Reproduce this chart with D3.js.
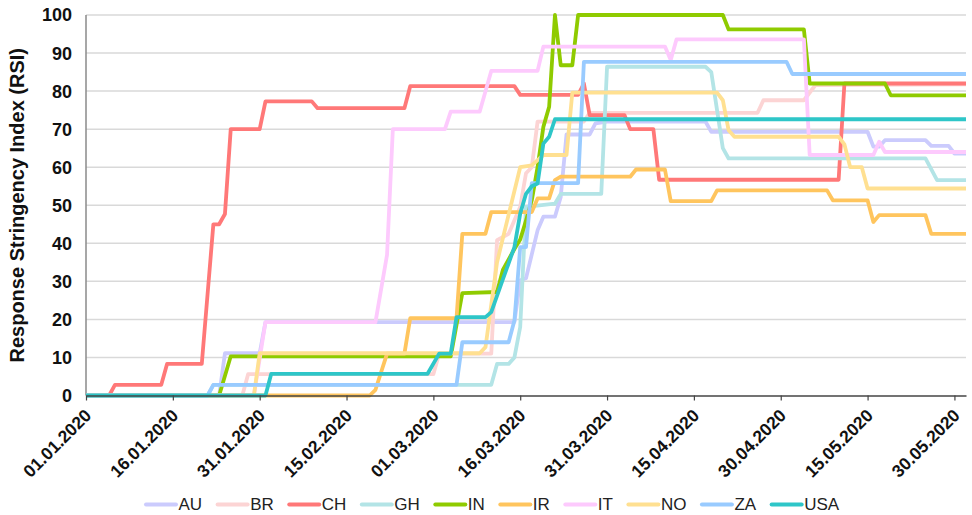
<!DOCTYPE html>
<html><head><meta charset="utf-8">
<script src="https://cdn.jsdelivr.net/npm/d3@7"></script>
<style>body{margin:0;background:#fff} svg{display:block}</style>
</head><body><svg id="c" width="972" height="515"></svg>
<script>
const countries = ["AU","BR","CH","GH","IN","IR","IT","NO","ZA","USA"];
const colors = ["#cbcbfd","#fcd4d4","#ff7878","#b3e4e6","#8fcb00","#ffc55e","#fdcafd","#ffe091","#99cbff","#2ec6c8"];
const yTicks = [0,10,20,30,40,50,60,70,80,90,100];
const xTickLabels = ["01.01.2020","16.01.2020","31.01.2020","15.02.2020","01.03.2020","16.03.2020","31.03.2020","15.04.2020","30.04.2020","15.05.2020","30.05.2020"];
const dateStart = "2020-01-01", dateEnd = "2020-06-01";

const AU = [["2020-01-01",0],["2020-01-24",0],["2020-01-25",11.1],["2020-01-31",11.1],["2020-02-01",19.3],["2020-03-15",19.3],["2020-03-16",30.3],["2020-03-17",30.8],["2020-03-19",43.4],["2020-03-20",47],["2020-03-22",47],["2020-03-23",52.2],["2020-03-24",68.6],["2020-03-28",68.6],["2020-03-29",71.5],["2020-03-31",72],["2020-04-17",72],["2020-04-18",69.3],["2020-05-15",69.3],["2020-05-16",65.4],["2020-05-17",65.4],["2020-05-18",67.1],["2020-05-25",67.1],["2020-05-26",65.6],["2020-05-29",65.6],["2020-05-30",63.6],["2020-06-01",63.6]];
const BR = [["2020-01-01",0],["2020-01-28",0],["2020-01-29",5.6],["2020-03-01",5.6],["2020-03-02",11],["2020-03-11",11],["2020-03-12",40.8],["2020-03-14",42.5],["2020-03-16",49.6],["2020-03-17",58.4],["2020-03-18",60],["2020-03-19",72],["2020-03-27",72],["2020-03-28",74.3],["2020-04-26",74.3],["2020-04-27",77.6],["2020-05-04",77.6],["2020-05-06",81.6],["2020-06-01",81.8]];
const CH = [["2020-01-01",0],["2020-01-05",0],["2020-01-06",2.8],["2020-01-14",2.8],["2020-01-15",8.3],["2020-01-21",8.3],["2020-01-23",45],["2020-01-24",45],["2020-01-25",47.7],["2020-01-26",70],["2020-01-31",70],["2020-02-01",77.3],["2020-02-09",77.3],["2020-02-10",75.5],["2020-02-25",75.5],["2020-02-26",81.3],["2020-03-15",81.3],["2020-03-16",79],["2020-03-26",79],["2020-03-27",82],["2020-03-28",73.7],["2020-04-03",73.7],["2020-04-04",70],["2020-04-08",70],["2020-04-09",56.7],["2020-05-10",56.7],["2020-05-11",82],["2020-06-01",82]];
const GH = [["2020-01-01",0],["2020-01-22",0],["2020-01-23",2.8],["2020-03-11",2.8],["2020-03-12",8.3],["2020-03-14",8.3],["2020-03-15",10],["2020-03-16",18],["2020-03-17",49.6],["2020-03-22",50.4],["2020-03-23",53],["2020-03-30",53],["2020-03-31",86.4],["2020-04-17",86.4],["2020-04-18",85],["2020-04-19",75],["2020-04-20",65],["2020-04-21",62.3],["2020-05-25",62.3],["2020-05-27",56.6],["2020-06-01",56.6]];
const IN = [["2020-01-01",0],["2020-01-24",0],["2020-01-26",10.3],["2020-03-04",10.3],["2020-03-06",26.9],["2020-03-12",27.2],["2020-03-13",33],["2020-03-15",38.5],["2020-03-16",41],["2020-03-17",46],["2020-03-18",51.3],["2020-03-19",60],["2020-03-20",70.6],["2020-03-21",75.9],["2020-03-22",100],["2020-03-23",86.8],["2020-03-25",86.8],["2020-03-26",100],["2020-04-20",100],["2020-04-21",96.2],["2020-05-04",96.2],["2020-05-05",82],["2020-05-18",82],["2020-05-19",78.9],["2020-06-01",78.9]];
const IR = [["2020-01-01",0],["2020-02-19",0],["2020-02-20",1.5],["2020-02-22",11],["2020-02-25",11],["2020-02-26",20.3],["2020-03-05",20.3],["2020-03-06",42.5],["2020-03-10",42.5],["2020-03-11",48.2],["2020-03-18",48.2],["2020-03-19",51.8],["2020-03-21",51.8],["2020-03-22",56.6],["2020-03-23",57.5],["2020-04-04",57.5],["2020-04-05",59.4],["2020-04-10",59.4],["2020-04-11",51.1],["2020-04-18",51.1],["2020-04-19",53.9],["2020-05-08",53.9],["2020-05-09",51.3],["2020-05-15",51.3],["2020-05-16",45.6],["2020-05-17",47.4],["2020-05-25",47.4],["2020-05-26",42.5],["2020-06-01",42.5]];
const IT = [["2020-01-01",0],["2020-01-30",0],["2020-02-01",19.3],["2020-02-20",19.3],["2020-02-22",37],["2020-02-23",70],["2020-03-03",70],["2020-03-04",74.6],["2020-03-09",74.6],["2020-03-11",85.3],["2020-03-19",85.3],["2020-03-20",91.7],["2020-04-10",91.7],["2020-04-11",88.2],["2020-04-12",93.6],["2020-05-04",93.6],["2020-05-05",63.2],["2020-05-16",63.2],["2020-05-17",66.7],["2020-05-18",64],["2020-06-01",64]];
const NO = [["2020-01-01",0],["2020-01-30",0],["2020-01-31",11.1],["2020-03-09",11.1],["2020-03-10",12.7],["2020-03-12",35],["2020-03-13",41.3],["2020-03-16",60],["2020-03-18",60.5],["2020-03-20",63.2],["2020-03-24",63.2],["2020-03-25",79.6],["2020-04-19",79.6],["2020-04-20",77.6],["2020-04-21",69.7],["2020-04-22",68],["2020-05-10",68],["2020-05-11",66],["2020-05-12",60],["2020-05-14",60],["2020-05-15",54.4],["2020-06-01",54.4]];
const ZA = [["2020-01-01",0],["2020-01-22",0],["2020-01-23",2.8],["2020-03-05",2.8],["2020-03-06",14],["2020-03-14",14],["2020-03-15",19.7],["2020-03-16",39],["2020-03-17",39],["2020-03-18",55.8],["2020-03-26",55.8],["2020-03-27",87.7],["2020-05-01",87.7],["2020-05-02",84.5],["2020-06-01",84.5]];
const USA = [["2020-01-01",0],["2020-02-01",0],["2020-02-02",5.7],["2020-02-29",5.7],["2020-03-02",11],["2020-03-04",11],["2020-03-05",20.6],["2020-03-10",20.6],["2020-03-11",21.9],["2020-03-13",30.5],["2020-03-15",39],["2020-03-16",47.8],["2020-03-17",53],["2020-03-18",55],["2020-03-19",55.7],["2020-03-20",66.2],["2020-03-21",68],["2020-03-22",72.6],["2020-06-01",72.6]];
const seriesData = [AU, BR, CH, GH, IN, IR, IT, NO, ZA, USA];

const parseISO = d3.utcParse("%Y-%m-%d");
const parseTick = d3.utcParse("%d.%m.%Y");
const svg = d3.select("#c");
const W = 972, H = 515;
const m = {l: 86, r: 6, t: 15, b: 119.5};
const x = d3.scaleUtc().domain([parseISO(dateStart), parseISO(dateEnd)]).range([m.l, W - m.r]);
const y = d3.scaleLinear().domain([0, 100]).range([H - m.b, m.t]);
const FONT = "Liberation Sans, Arial, sans-serif";

svg.append("rect").attr("width", W).attr("height", H).attr("fill", "#fff");

// grid
svg.append("g").selectAll("line").data(yTicks.filter(v => v > 0)).join("line")
  .attr("x1", m.l).attr("x2", W - m.r)
  .attr("y1", d => y(d)).attr("y2", d => y(d))
  .attr("stroke", "#d9d9d9").attr("stroke-width", 1.5);

// left axis line
svg.append("line").attr("x1", m.l).attr("x2", m.l).attr("y1", y(100)).attr("y2", y(0))
  .attr("stroke", "#8a8a8a").attr("stroke-width", 1.5);

// y labels
svg.append("g").selectAll("text").data(yTicks).join("text")
  .attr("x", 72).attr("y", d => y(d)).attr("dy", "0.36em")
  .attr("text-anchor", "end")
  .attr("font-family", FONT)
  .attr("font-weight", "bold").attr("font-size", 18).attr("fill", "#111")
  .text(d => d);

// y title
svg.append("text")
  .attr("transform", `translate(23.5,${(y(0) + y(100)) / 2}) rotate(-90)`)
  .attr("text-anchor", "middle")
  .attr("font-family", FONT)
  .attr("font-weight", "bold").attr("font-size", 20).attr("fill", "#111")
  .text("Response Stringency Index (RSI)");

// lines
const line = d3.line().x(d => x(parseISO(d[0]))).y(d => y(d[1]));
svg.append("g").selectAll("path").data(seriesData).join("path")
  .attr("d", line)
  .attr("fill", "none")
  .attr("stroke", (d, i) => colors[i])
  .attr("stroke-width", 3.8)
  .attr("stroke-linejoin", "round");

// x axis
const xAxis = d3.axisBottom(x)
  .tickValues(xTickLabels.map(parseTick))
  .tickSize(5).tickSizeOuter(0)
  .tickFormat((d, i) => xTickLabels[i]);
const gx = svg.append("g").attr("transform", `translate(0,${y(0)})`).call(xAxis);
gx.select(".domain").attr("stroke", "#444").attr("stroke-width", 1.5);
gx.selectAll(".tick line").attr("stroke", "#444").attr("stroke-width", 1.2);
gx.selectAll(".tick text")
  .attr("font-family", FONT)
  .attr("font-weight", "bold").attr("font-size", 17.5).attr("fill", "#111")
  .attr("text-anchor", "end")
  .attr("x", 0).attr("y", 0).attr("dy", 0)
  .attr("transform", "translate(6,21) rotate(-45)");

// legend
const lg = svg.append("g").attr("transform", "translate(146,0)");
const items = lg.selectAll("g").data(countries).join("g");
items.append("line").attr("x1", 0).attr("x2", 30).attr("y1", 504.5).attr("y2", 504.5)
  .attr("stroke", (d, i) => colors[i]).attr("stroke-width", 4).attr("stroke-linecap", "round");
items.append("text").attr("x", 32.5).attr("y", 503.5).attr("dy", "0.36em")
  .attr("font-family", FONT)
  .attr("font-size", 17).attr("fill", "#222")
  .text(d => d);
let cx = 0;
items.each(function () {
  const g = d3.select(this);
  const tw = g.select("text").node().getComputedTextLength();
  g.attr("transform", `translate(${cx},0)`);
  cx += 32.5 + tw + 15.5;
});
</script></body></html>
